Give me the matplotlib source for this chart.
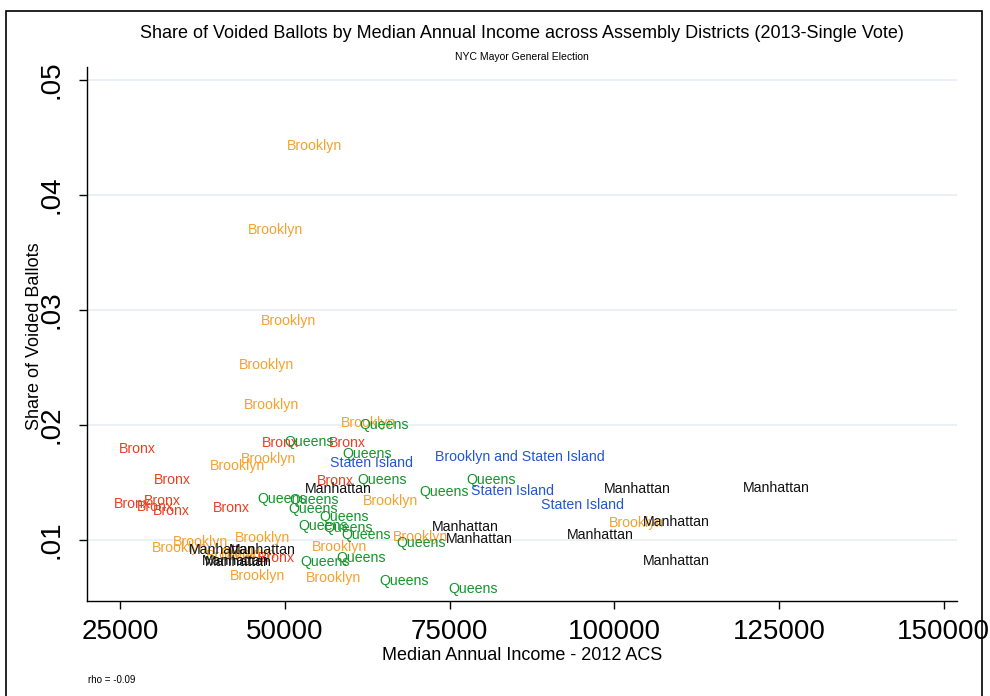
import matplotlib
matplotlib.use('Agg')
from matplotlib import pyplot as plt
from matplotlib.patches import Rectangle

plt.rcParams['font.family'] = ['Liberation Sans', 'DejaVu Sans']

# borough label, median income (2012 ACS), share of voided ballots
borough = [
    'Brooklyn', 'Brooklyn', 'Brooklyn', 'Brooklyn', 'Brooklyn', 'Brooklyn',
    'Brooklyn', 'Brooklyn', 'Brooklyn', 'Brooklyn', 'Brooklyn', 'Brooklyn',
    'Brooklyn', 'Brooklyn', 'Brooklyn', 'Brooklyn', 'Brooklyn', 'Brooklyn',
    'Brooklyn',
    'Bronx', 'Bronx', 'Bronx', 'Bronx', 'Bronx', 'Bronx', 'Bronx', 'Bronx',
    'Bronx', 'Bronx', 'Bronx',
    'Queens', 'Queens', 'Queens', 'Queens', 'Queens', 'Queens', 'Queens',
    'Queens', 'Queens', 'Queens', 'Queens', 'Queens', 'Queens', 'Queens',
    'Queens', 'Queens', 'Queens', 'Queens',
    'Staten Island', 'Brooklyn and Staten Island', 'Staten Island',
    'Staten Island',
    'Manhattan', 'Manhattan', 'Manhattan', 'Manhattan', 'Manhattan',
    'Manhattan', 'Manhattan', 'Manhattan', 'Manhattan', 'Manhattan',
    'Manhattan', 'Manhattan',
]
income = [
    54500, 48540, 50520, 47180, 47930, 62670,
    42770, 47480, 66010, 46570, 70570, 58260,
    57350, 45810, 103370, 34110, 37150, 42160,
    44440,
    27580, 32900, 26820, 31380, 30320, 32750, 41860, 49300, 59480,
    57650, 48690,
    65100, 53710, 62520, 64790, 74210, 81350, 49600,
    54470, 54310, 59020, 55830, 59630, 62360, 70720,
    56140, 61600, 68140, 78620,
    63120, 85750, 84540,
    95170,
    58110, 77400, 79530, 97900, 103520,
    109450, 109450, 124640, 40490, 46570,
    42470, 42920,
]
voided = [
    0.0442, 0.0369, 0.0290, 0.0252, 0.0217, 0.0202,
    0.0164, 0.0170, 0.0134, 0.0102, 0.0103, 0.0094,
    0.0067, 0.0069, 0.0115, 0.0093, 0.0098, 0.0086,
    0.0088,
    0.0179, 0.0152, 0.0131, 0.0134, 0.0129, 0.0125, 0.0128, 0.0184, 0.0184,
    0.0151, 0.0084,
    0.0200, 0.0185, 0.0175, 0.0152, 0.0142, 0.0152, 0.0136,
    0.0135, 0.0127, 0.0120, 0.0112, 0.0110, 0.0104, 0.0097,
    0.0081, 0.0084, 0.0064, 0.0057,
    0.0167, 0.0172, 0.0143,
    0.0130,
    0.0144, 0.0111, 0.0101, 0.0104, 0.0144,
    0.0116, 0.0082, 0.0145, 0.0091, 0.0091,
    0.0082, 0.0081,
]

colors = {
    'Brooklyn': '#F5A12E',
    'Queens': '#14952B',
    'Bronx': '#EE3D23',
    'Manhattan': '#111111',
    'Staten Island': '#2255D6',
    'Brooklyn and Staten Island': '#2255D6',
}

xticks = [25000, 50000, 75000, 100000, 125000, 150000]
yticks = [0.01, 0.02, 0.03, 0.04, 0.05]
ytick_labels = ['.01', '.02', '.03', '.04', '.05']

fig = plt.figure(figsize=(9.9, 6.96), dpi=100)
ax = fig.add_axes([87 / 990, 1 - 601 / 696, 870 / 990, 534 / 696])

# labels drawn as the markers, centred on each point
for b, x, y in zip(borough, income, voided):
    ax.text(x, y, b, color=colors[b], fontsize=10.2, ha='center', va='center')

ax.set_xlim(20000, 152000)
ax.set_ylim(0.0047, 0.0511)
ax.set_xticks(xticks)
ax.set_xticklabels([str(t) for t in xticks], fontsize=20)
ax.set_yticks(yticks)
ax.set_yticklabels(ytick_labels, fontsize=20, rotation=90, va='center')
ax.tick_params(axis='both', length=6, width=1, direction='out')
ax.tick_params(axis='y', pad=10)
ax.tick_params(axis='x', pad=7)

ax.yaxis.grid(True, color='#E6EDF3', linewidth=1.2)
ax.set_axisbelow(True)
for side in ['top', 'right']:
    ax.spines[side].set_visible(False)
for side in ['left', 'bottom']:
    ax.spines[side].set_linewidth(1)

fig.text(522 / 990, 1 - 33 / 696,
         'Share of Voided Ballots by Median Annual Income across Assembly Districts (2013-Single Vote)',
         fontsize=13, ha='center', va='center')
fig.text(522 / 990, 1 - 57 / 696, 'NYC Mayor General Election',
         fontsize=7.5, ha='center', va='center')
fig.text(35 / 990, 1 - 336 / 696, 'Share of Voided Ballots',
         fontsize=13, rotation=90, ha='center', va='center')
fig.text(522 / 990, 1 - 655 / 696, 'Median Annual Income - 2012 ACS',
         fontsize=13, ha='center', va='center')
fig.text(88 / 990, 1 - 680 / 696, 'rho = -0.09', fontsize=7, ha='left', va='center')

# outer frame around the graph region
fig.patches.append(Rectangle((6 / 990, -0.05), 976 / 990, 1.05 - 11 / 696,
                             transform=fig.transFigure, fill=False,
                             edgecolor='black', linewidth=1.2))

fig.savefig('out.png', dpi=100)
